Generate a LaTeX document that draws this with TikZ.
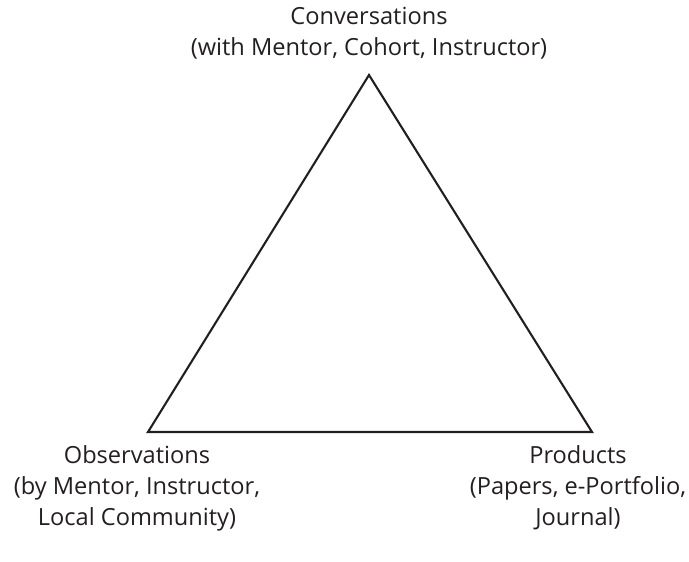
\documentclass[tikz,border=0pt]{standalone}
\usepackage{fontspec}
\setmainfont{Open Sans}
\definecolor{ink}{HTML}{231F20}
\begin{document}
\begin{tikzpicture}[x=1pt,y=1pt,
  lbl/.style={align=center,font=\fontsize{23.6}{31}\selectfont,inner sep=0pt,text=ink}]
\useasboundingbox (0,0) rectangle (689,562);
\coordinate (top) at (369,487);
\coordinate (bl) at (148,130);
\coordinate (br) at (592,130);
\draw[ink,line width=2.1pt,line join=miter] (top) -- (br) -- (bl) -- cycle;
\node[lbl] (conv) at (369,529) {Conversations\\(with Mentor, Cohort, Instructor)};
\node[lbl] (obs) at (137,74) {Observations\\(by Mentor, Instructor,\\Local Community)};
\node[lbl] (prod) at (578,74) {Products\\(Papers, e-Portfolio,\\Journal)};
\end{tikzpicture}
\end{document}
